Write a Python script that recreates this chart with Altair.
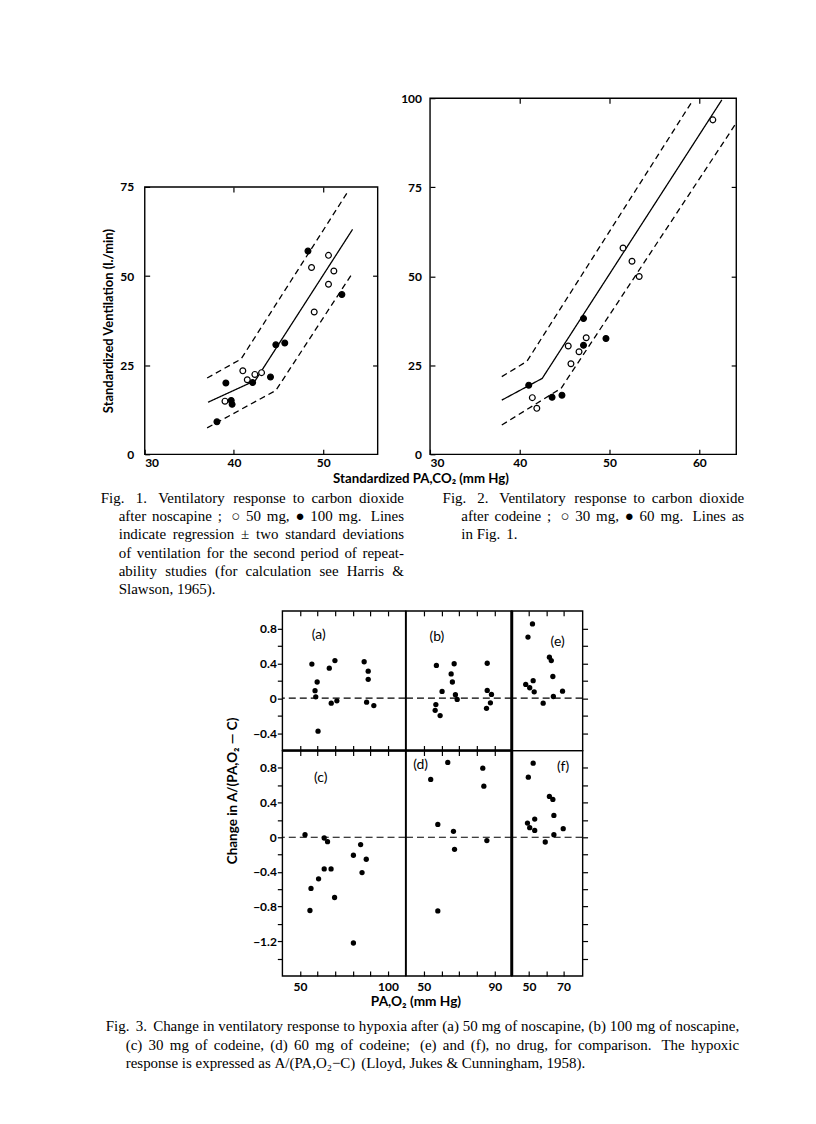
import altair as alt
import pandas as pd

SANS = "Lato"
SERIF = "Liberation Serif"

# ---------------- Fig. 1 data (noscapine) ----------------
f1_open_x = [39.0, 41.0, 41.5, 42.35, 43.1, 48.7, 49.0, 50.6, 51.2, 50.6]
f1_open_y = [14.9, 23.4, 20.9, 22.4, 22.9, 52.4, 39.9, 55.8, 51.4, 47.7]
f1_fill_x = [39.1, 39.7, 39.8, 38.1, 42.1, 44.1, 44.7, 45.7, 48.3, 52.1]
f1_fill_y = [20.0, 15.1, 14.0, 9.1, 20.1, 21.7, 30.7, 31.2, 57.0, 44.8]
f1_upper_x = [37.0, 40.8, 52.8]
f1_upper_y = [21.4, 26.7, 73.8]
f1_fit_x = [37.1, 42.4, 53.3]
f1_fit_y = [14.6, 20.7, 63.1]
f1_lower_x = [37.0, 44.7, 53.2]
f1_lower_y = [7.4, 17.9, 50.5]

# ---------------- Fig. 2 data (codeine) ----------------
f2_open_x = [41.4, 41.9, 45.4, 45.7, 46.6, 47.4, 51.5, 52.5, 53.3, 61.5]
f2_open_y = [15.9, 12.9, 30.4, 25.4, 28.8, 32.7, 57.9, 54.2, 49.9, 93.9]
f2_fill_x = [41.0, 43.6, 44.7, 47.1, 47.1, 49.6]
f2_fill_y = [19.4, 16.0, 16.6, 38.1, 30.6, 32.5]
f2_upper_x = [38.0, 40.8, 59.3]
f2_upper_y = [21.8, 26.1, 99.5]
f2_fit_x = [38.0, 42.5, 62.5]
f2_fit_y = [15.2, 21.3, 99.5]
f2_lower_x = [38.0, 44.6, 64.1]
f2_lower_y = [8.2, 18.5, 93.0]

# ---------------- Fig. 3 data (hypoxic response) ----------------
a_x = [56.8, 58.6, 59.8, 59.0, 60.3, 66.7, 67.8, 69.9, 71.0, 86.5, 88.8, 88.8, 87.9, 92.0]
a_y = [0.39, 0.085, 0.185, 0.015, -0.378, 0.344, -0.058, 0.43, -0.03, 0.417, 0.309, 0.216, -0.046, -0.085]
b_x = [57.1, 56.8, 56.4, 59.2, 60.3, 65.4, 66.1, 67.1, 67.8, 68.8, 85.7, 85.7, 88.1, 87.5, 85.3]
b_y = [0.375, -0.073, -0.139, -0.2, 0.077, 0.278, 0.185, 0.394, 0.039, -0.015, 0.40, 0.089, 0.042, -0.054, -0.116]
e_x = [52.0, 49.4, 48.1, 50.4, 52.4, 53.0, 58.2, 61.8, 62.9, 63.8, 64.1, 69.4]
e_y = [0.85, 0.70, 0.157, 0.119, 0.20, 0.073, -0.057, 0.47, 0.43, 0.248, 0.019, 0.08]
c_x = [52.9, 56.3, 55.7, 60.6, 63.8, 65.7, 63.8, 67.7, 69.7, 80.4, 80.4, 84.5, 85.3, 87.7]
c_y = [0.03, -0.59, -0.845, -0.48, -0.009, -0.051, -0.366, -0.366, -0.695, -0.208, -1.22, -0.085, -0.407, -0.254]
d_x = [53.9, 63.5, 57.9, 57.9, 66.7, 67.3, 83.2, 83.8, 85.5]
d_y = [0.666, 0.862, 0.148, -0.85, 0.068, -0.139, 0.796, 0.589, -0.039]
f_x = [52.4, 49.6, 49.1, 50.4, 53.3, 53.3, 59.4, 61.8, 63.8, 64.4, 64.4, 69.8]
f_y = [0.854, 0.693, 0.163, 0.11, 0.21, 0.079, -0.055, 0.47, 0.436, 0.252, 0.03, 0.099]

# ---------------- texts ----------------
fig1_caption = [
    "Fig. 1.  Ventilatory response to carbon dioxide",
    "after noscapine ;  \u25cb 50 mg, \u25cf 100 mg.   Lines",
    "indicate regression \u00b1 two standard deviations",
    "of ventilation for the second period of repeat-",
    "ability studies (for calculation see Harris &",
    "Slawson, 1965).",
]
fig2_caption = [
    "Fig. 2.  Ventilatory response to carbon dioxide",
    "after codeine ;  \u25cb 30 mg, \u25cf 60 mg.   Lines as",
    "in Fig. 1.",
]
fig3_caption = [
    "Fig. 3.  Change in ventilatory response to hypoxia after (a) 50 mg of noscapine, (b) 100 mg of noscapine,",
    "(c) 30 mg of codeine, (d) 60 mg of codeine;  (e) and (f), no drug, for comparison.  The hypoxic",
    "response is expressed as A/(PA,O\u2082\u2212C) (Lloyd, Jukes & Cunningham, 1958).",
]

ONE = pd.DataFrame({"d": [0]})
FRAME = alt.ViewBackground(stroke="black", strokeWidth=1.4, strokeOpacity=1)
CAP_FS = 15

# Times (Liberation Serif) advance widths, 1/1000 em, used to justify caption lines
_TW = {" ": 250, ".": 250, ",": 250, ";": 278, ":": 278, "(": 333, ")": 333, "-": 333,
       "&": 778, "/": 278, "\u00b1": 564, "\u2212": 564, "\u2014": 1000, "\u2082": 400,
       "\u25cb": 600, "\u25cf": 600}
_TW.update({d: 500 for d in "0123456789"})
_TW.update(dict(zip("ABCDEFGHIJKLMNOPQRSTUVWXYZ",
                    [722, 667, 667, 722, 611, 556, 722, 722, 333, 389, 722, 611, 889, 722, 722,
                     556, 722, 667, 556, 611, 722, 722, 944, 722, 722, 611])))
_TW.update(dict(zip("abcdefghijklmnopqrstuvwxyz",
                    [444, 500, 444, 500, 444, 333, 500, 500, 278, 278, 500, 278, 778, 500, 500,
                     500, 500, 333, 389, 278, 500, 500, 722, 500, 500, 444])))


def text_width(s, fs):
    return sum(_TW.get(ch, 550) for ch in s) * fs / 1000.0


def paragraph(lines, x_first, x_indent, x_right, y0, dy, fs):
    """Lay out a justified paragraph with a hanging indent (last line ragged)."""
    rows = []
    for i, line in enumerate(lines):
        words = line.split()
        x0 = x_first if i == 0 else x_indent
        widths = [text_width(w, fs) for w in words]
        wts = [1.6 if w[-1] in ".;" else 1.0 for w in words[:-1]]
        sp = text_width(" ", fs)
        gaps = [sp * t for t in wts]
        if i < len(lines) - 1 and len(words) > 1:
            extra = (x_right - x0) - sum(widths) - sum(gaps)
            gaps = [g + extra * t / sum(wts) for g, t in zip(gaps, wts)]
        x = x0
        for j, w in enumerate(words):
            rows.append({"word": w, "px": x, "py": y0 + i * dy})
            if j < len(gaps):
                x += widths[j] + gaps[j]
    df = pd.DataFrame(rows)
    return alt.Chart(df).mark_text(font=SERIF, fontSize=fs, color="black", align="left",
                                   baseline="middle").encode(
        x=alt.X("px:Q", scale=None, axis=None),
        y=alt.Y("py:Q", scale=None, axis=None),
        text="word:N",
    )


def txt(s, x, y, **kw):
    style = dict(font=SANS, fontSize=12, color="black", align="center", baseline="middle")
    style.update(kw)
    return alt.Chart(ONE).mark_text(**style).encode(
        x=alt.value(x), y=alt.value(y), text=alt.value(s)
    )


def spacer(w, h, texts=()):
    base = alt.Chart(ONE).mark_point(opacity=0)
    if texts:
        return alt.layer(base, *texts).properties(width=w, height=h)
    return base.properties(width=w, height=h)


def hc(*items):
    return alt.hconcat(*items, spacing=0, bounds="flush")


def vc(*items):
    return alt.vconcat(*items, spacing=0, bounds="flush")


def co2_panel(ox, oy, fx, fy, lines, xdom, ydom, w, h, xlab, ylab, xin, yin, lpad):
    pts = pd.DataFrame({
        "x": ox + fx, "y": oy + fy,
        "dose": ["low"] * len(ox) + ["high"] * len(fx),
    })
    rows = []
    for name, (lx, ly) in lines.items():
        for xv, yv in zip(lx, ly):
            rows.append({"x": xv, "y": yv, "line": name})
    ln = pd.DataFrame(rows)
    xs = alt.Scale(domain=xdom, nice=False, zero=False)
    ys = alt.Scale(domain=ydom, nice=False, zero=False)
    line_layer = alt.Chart(ln).mark_line(color="black", strokeWidth=1.3, clip=True).encode(
        x=alt.X("x:Q", scale=xs, axis=alt.Axis(orient="top", values=xin, labels=False,
                tickSize=5, offset=-5, domain=False, title=None)),
        y=alt.Y("y:Q", scale=ys, axis=alt.Axis(orient="right", values=yin, labels=False,
                tickSize=5, offset=-5, domain=False, title=None)),
        detail="line:N",
        strokeDash=alt.StrokeDash("line:N", scale=alt.Scale(
            domain=["upper", "fit", "lower"], range=[[6, 4], [1, 0], [6, 4]]), legend=None),
    )
    pt_layer = alt.Chart(pts).mark_point(
        shape="circle", filled=True, stroke="black", strokeWidth=1.2, size=34, opacity=1
    ).encode(
        x=alt.X("x:Q", scale=xs, axis=alt.Axis(orient="bottom", values=xlab, tickSize=5,
                offset=-5, domain=False, labelPadding=3, title=None, format="d")),
        y=alt.Y("y:Q", scale=ys, axis=alt.Axis(orient="left", values=ylab, tickSize=5,
                offset=-5, domain=False, labelPadding=lpad, title=None, format="d")),
        fill=alt.Fill("dose:N", scale=alt.Scale(domain=["low", "high"], range=["white", "black"]),
                      legend=None),
    )
    return alt.layer(line_layer, pt_layer).resolve_axis(
        x="independent", y="independent").properties(width=w, height=h, view=FRAME)


LEFT_EXPR = ("round(datum.value*10) % 4 == 0 ? (datum.value < 0 ? '\u2212' + format(-datum.value, '.1f') "
             ": (datum.value == 0 ? '0' : format(datum.value, '.1f'))) : ''")


def hyp_panel(px, py, xdom, ydom, w, h, xt, yt, label, lxy, yside=None, top=True,
              bottom=True, blabels=None, vdiv=False, hdiv=False):
    df = pd.DataFrame({"x": px, "y": py})
    xs = alt.Scale(domain=xdom, nice=False, zero=False)
    ys = alt.Scale(domain=ydom, nice=False, zero=False)
    if yside == "left":
        yaxis = alt.Axis(orient="left", values=yt, tickSize=5, domain=False, labelPadding=1,
                         labelExpr=LEFT_EXPR, title=None)
    elif yside == "right":
        yaxis = alt.Axis(orient="right", values=yt, tickSize=5, domain=False, labels=False,
                         title=None)
    else:
        yaxis = None
    if bottom:
        if blabels:
            bexpr = " || ".join(f"datum.value == {v}" for v in blabels)
            xaxis = alt.Axis(orient="bottom", values=xt, tickSize=5, offset=-5, domain=False,
                             labelPadding=6, labelExpr=f"({bexpr}) ? datum.label : ''",
                             title=None, format="d")
        else:
            xaxis = alt.Axis(orient="bottom", values=xt, tickSize=5, offset=-5, domain=False,
                             labels=False, title=None)
    else:
        xaxis = None
    zero = alt.Chart(ONE).mark_rule(color="black", strokeWidth=1.2, strokeDash=[7, 4]).encode(
        y=alt.YDatum(0, scale=ys, axis=None))
    dots = alt.Chart(df).mark_circle(color="black", size=28, opacity=1).encode(
        x=alt.X("x:Q", scale=xs, axis=xaxis),
        y=alt.Y("y:Q", scale=ys, axis=yaxis),
    )
    layers = [zero, dots]
    if top:
        ghost = alt.Chart(df).mark_circle(opacity=0).encode(
            x=alt.X("x:Q", scale=xs, axis=alt.Axis(orient="top", values=xt, tickSize=5,
                    offset=-5, domain=False, labels=False, title=None)),
            y=alt.Y("y:Q", scale=ys, axis=None),
        )
        layers.append(ghost)
    if vdiv:
        layers.append(alt.Chart(ONE).mark_rule(color="black", strokeWidth=3).encode(
            x=alt.value(w), y=alt.value(0), y2=alt.value(h)))
    if hdiv:
        layers.append(alt.Chart(ONE).mark_rule(color="black", strokeWidth=2.4).encode(
            x=alt.value(0), x2=alt.value(w), y=alt.value(h)))
    layers.append(txt(label, lxy[0], lxy[1], fontSize=14))
    return alt.layer(*layers).resolve_axis(x="independent", y="independent").properties(
        width=w, height=h, view=FRAME)


# ---------------- Fig 1 & 2 ----------------
fig1 = co2_panel(
    f1_open_x, f1_open_y, f1_fill_x, f1_fill_y,
    {"upper": (f1_upper_x, f1_upper_y), "fit": (f1_fit_x, f1_fit_y),
     "lower": (f1_lower_x, f1_lower_y)},
    [30, 56.1], [0, 75], 233.5, 268, [30, 40, 50], [0, 25, 50, 75], [40, 50], [25, 50], 11)
fig2 = co2_panel(
    f2_open_x, f2_open_y, f2_fill_x, f2_fill_y,
    {"upper": (f2_upper_x, f2_upper_y), "fit": (f2_fit_x, f2_fit_y),
     "lower": (f2_lower_x, f2_lower_y)},
    [30, 64.1], [0, 100], 307, 357, [30, 40, 50, 60], [0, 25, 50, 75, 100], [40, 50, 60],
    [25, 50, 75], 8.5)

# nested concat groups have zero size under "flush" bounds; spacers reserve their room
col1 = vc(spacer(233.5, 89), fig1)
row0 = hc(
    spacer(135.5, 357, [txt("Standardized Ventilation (l./min)", 100, 223.5, angle=270,
                             fontWeight="bold", fontSize=13)]),
    col1,
    spacer(233.5, 1),
    spacer(52, 1),
    fig2,
)

row1 = spacer(800, 157, [
    txt("Standardized PA,CO\u2082 (mm Hg)", 413, 24.5, fontWeight="bold", fontSize=13.3),
    paragraph(fig1_caption, 92, 110, 396, 43.5, 18.4, CAP_FS),
    paragraph(fig2_caption, 434.7, 453.4, 737, 43.5, 18.4, CAP_FS),
])

# ---------------- Fig 3 ----------------
YT_TOP = [-0.4, -0.2, 0, 0.2, 0.4, 0.6, 0.8]
YT_BOT = [-1.4, -1.2, -1.0, -0.8, -0.6, -0.4, -0.2, 0, 0.2, 0.4, 0.6, 0.8]
XT_AC = [50, 60, 70, 80, 90, 100]
XT_BD = [50, 60, 70, 80, 90]
XT_EF = [50, 60, 70]

pa = hyp_panel(a_x, a_y, [40, 110], [-0.6, 1.0], 123.5, 140, XT_AC, YT_TOP, "(a)", (36.5, 24.5),
               yside="left", hdiv=True)
pb = hyp_panel(b_x, b_y, [40, 99.5], [-0.6, 1.0], 106, 140, XT_BD, YT_TOP, "(b)", (31, 26),
               vdiv=True, hdiv=True)
pe = hyp_panel(e_x, e_y, [40, 81], [-0.6, 1.0], 71, 140, XT_EF, YT_TOP, "(e)", (46, 31),
               yside="right", bottom=False)
pc = hyp_panel(c_x, c_y, [40, 110], [-1.6, 1.0], 123.5, 226, XT_AC, YT_BOT, "(c)", (38.5, 28),
               yside="left", blabels=[50, 100])
pd_ = hyp_panel(d_x, d_y, [40, 99.5], [-1.6, 1.0], 106, 226, XT_BD, YT_BOT, "(d)", (14.7, 15),
                blabels=[50, 90], vdiv=True)
pf = hyp_panel(f_x, f_y, [40, 81], [-1.6, 1.0], 71, 226, XT_EF, YT_BOT, "(f)", (51.5, 17),
               yside="right", top=False, blabels=[50, 70])

grid3 = vc(hc(pa, pb, pe), spacer(1, 140), hc(pc, pd_, pf))
row2 = hc(
    spacer(273.5, 366, [txt("Change in A/(PA,O\u2082 \u2014 C)", 225, 180.5, angle=270,
                             fontWeight="bold", fontSize=13.5)]),
    grid3,
)

row3 = spacer(800, 131, [
    txt("PA,O\u2082 (mm Hg)", 408, 26.5, fontWeight="bold", fontSize=13.7),
    paragraph(fig3_caption, 97, 117, 732, 50.5, 18.5, CAP_FS),
])

chart = vc(
    spacer(800, 88.5),
    row0,
    spacer(800, 357),
    row1,
    row2,
    spacer(800, 366),
    row3,
).properties(padding=0, background="white").configure_view(
    stroke="transparent"
).configure_axis(
    labelFont=SANS, labelFontWeight="bold", labelFontSize=12, labelColor="black",
    tickColor="black", tickWidth=1.2, grid=False
)

chart.save("out.html", embed_options={"renderer": "svg", "actions": False})
